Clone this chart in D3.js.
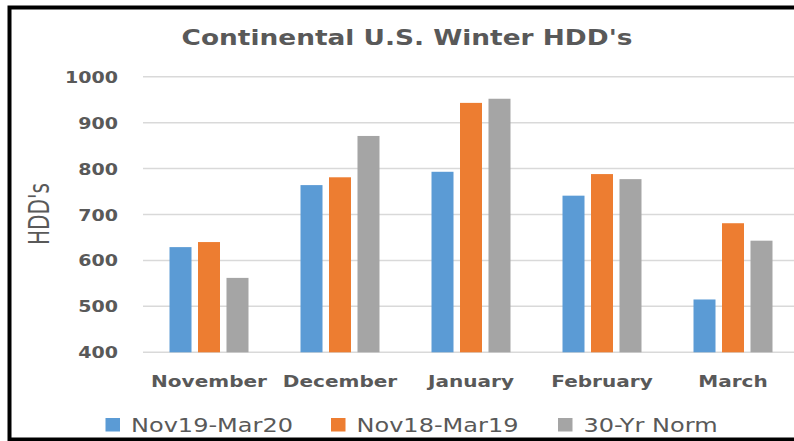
<!DOCTYPE html>
<html>
<head>
<meta charset="utf-8">
<script src="https://cdn.jsdelivr.net/npm/d3@7"></script>
<style>
  html, body { margin: 0; padding: 0; background: #fff; }
  svg { display: block; }
  text { font-family: "DejaVu Sans", sans-serif; fill: #595959; }
</style>
</head>
<body>
<svg id="chart" width="794" height="441"></svg>
<script>
const categories = ["November", "December", "January", "February", "March"];
const seriesNames = ["Nov19-Mar20", "Nov18-Mar19", "30-Yr Norm"];
const nov19Mar20 = [629, 764, 793, 741, 515];
const nov18Mar19 = [640, 781, 943, 788, 681];
const norm30Yr = [562, 871, 952, 777, 643];
const yTicks = [400, 500, 600, 700, 800, 900, 1000];
const titleText = "Continental U.S. Winter HDD's";
const yAxisTitle = "HDD's";

const seriesValues = [nov19Mar20, nov18Mar19, norm30Yr];
const colors = ["#5B9BD5", "#ED7D31", "#A5A5A5"];

const svg = d3.select("#chart");

const x0 = d3.scaleBand().domain(categories).range([143.5, 798.5]).paddingInner(0.397).paddingOuter(0.1985);
const x1 = d3.scaleBand().domain(seriesNames).range([0, x0.bandwidth()]).paddingInner(0.228).paddingOuter(0);
const y = d3.scaleLinear().domain([400, 1000]).range([352.3, 76.7]);
const color = d3.scaleOrdinal().domain(seriesNames).range(colors);

// helper: horizontally stretch text to reach a target width for a reference element
function stretch(sel, refNode, target) {
  const nat = refNode.getComputedTextLength();
  const k = target / nat;
  sel.each(function() {
    const t = d3.select(this);
    const tx = +t.attr("data-x"), ty = +t.attr("data-y"), rot = t.attr("data-rot") || 0;
    t.attr("x", 0).attr("y", 0)
     .attr("transform", `translate(${tx},${ty}) rotate(${rot}) scale(${k},1)`);
  });
}

// gridlines
const grid = svg.append("g");
grid.selectAll("line").data(yTicks).join("line")
  .attr("x1", 143).attr("x2", 794)
  .attr("y1", d => y(d)).attr("y2", d => y(d))
  .attr("stroke", "#d9d9d9").attr("stroke-width", 1.5);

// y axis labels
const yAxis = d3.axisLeft(y).tickValues(yTicks).tickSize(0).tickPadding(0).tickFormat(d3.format("d"));
const yg = svg.append("g").attr("transform", "translate(118,0)").call(yAxis);
yg.select(".domain").remove();
yg.selectAll(".tick").attr("transform", null);
yg.selectAll("text")
  .attr("font-family", "DejaVu Sans").attr("font-weight", "bold").attr("font-size", 16.5)
  .attr("fill", "#595959").attr("dy", null).attr("text-anchor", "end")
  .each(function(d) { d3.select(this).attr("data-x", 0).attr("data-y", y(d) + 6); });
{
  const labs = yg.selectAll("text");
  const ref = labs.filter(d => d === 1000).node();
  stretch(labs, ref, 53);
}

// bars
const groups = svg.append("g").selectAll("g").data(categories).join("g")
  .attr("transform", d => `translate(${x0(d)},0)`);
groups.selectAll("rect")
  .data((c, i) => seriesNames.map((s, j) => ({ s, v: seriesValues[j][i] })))
  .join("rect")
  .attr("x", d => x1(d.s))
  .attr("width", x1.bandwidth())
  .attr("y", d => y(d.v))
  .attr("height", d => y(400) - y(d.v))
  .attr("fill", d => color(d.s));

// x axis labels
const xAxis = d3.axisBottom(x0).tickSize(0).tickPadding(0);
const xg = svg.append("g").call(xAxis);
xg.select(".domain").remove();
xg.selectAll(".tick").attr("transform", null);
xg.selectAll("text")
  .attr("font-family", "DejaVu Sans").attr("font-weight", "bold").attr("font-size", 16)
  .attr("fill", "#595959").attr("dy", null).attr("text-anchor", "middle")
  .each(function(d) { d3.select(this).attr("data-x", x0(d) + x0.bandwidth() / 2).attr("data-y", 387); });
{
  const labs = xg.selectAll("text");
  stretch(labs, labs.filter(d => d === "November").node(), 116);
}

// title
const title = svg.append("text").text(titleText)
  .attr("text-anchor", "middle").attr("font-weight", "bold").attr("font-size", 22)
  .attr("data-x", 407).attr("data-y", 45);
stretch(title, title.node(), 451);

// y axis title
const yt = svg.append("text").text(yAxisTitle)
  .attr("text-anchor", "middle").attr("font-size", 28)
  .attr("data-x", 49).attr("data-y", 214).attr("data-rot", -90);
stretch(yt, yt.node(), 62);

// legend
const legend = svg.append("g");
const legendX = [105.5, 331, 558];
const items = legend.selectAll("g").data(seriesNames).join("g");
items.append("rect")
  .attr("x", (d, i) => legendX[i]).attr("y", 418)
  .attr("width", 14.5).attr("height", 13.5)
  .attr("fill", d => color(d));
const ltexts = items.append("text").text(d => d)
  .attr("font-size", 20)
  .attr("data-x", (d, i) => legendX[i] + 25.5).attr("data-y", 432);
stretch(ltexts, ltexts.filter(d => d === "Nov19-Mar20").node(), 162);

// frame
svg.append("rect")
  .attr("x", 9.5).attr("y", 7.5).attr("width", 820).attr("height", 432)
  .attr("fill", "none").attr("stroke", "#000").attr("stroke-width", 4);
</script>
</body>
</html>
